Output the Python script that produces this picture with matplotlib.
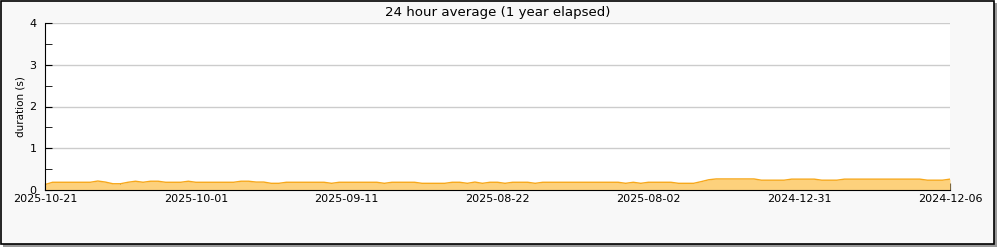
import matplotlib
matplotlib.use("Agg")
import matplotlib.pyplot as plt
from matplotlib.patches import Rectangle
from matplotlib.ticker import MultipleLocator
import numpy as np

# daily 24h averages (s), newest on the left
durations = [0.13] + [0.185] * 6 + [0.215, 0.19, 0.15, 0.15, 0.185, 0.21, 0.185,
             0.21, 0.21] + [0.185] * 3 + [0.21] + [0.185] * 6 + [0.21, 0.21, 0.19, 0.19,
             0.16, 0.16] + [0.185] * 6 + [0.16] + [0.185] * 6 + [0.16] + [0.185] * 4 + \
            [0.16] * 4 + [0.185, 0.185, 0.16, 0.19, 0.16, 0.185, 0.185, 0.16] + \
            [0.185] * 3 + [0.16] + [0.185] * 11 + [0.16, 0.185, 0.16] + [0.185] * 4 + \
            [0.16] * 3 + [0.2, 0.245] + [0.265] * 6 + [0.235] * 4 + [0.26] * 4 + \
            [0.235] * 3 + [0.26] * 11 + [0.235] * 3 + [0.26]
tick_labels = ["2025-10-21", "2025-10-01", "2025-09-11", "2025-08-22",
               "2025-08-02", "2024-12-31", "2024-12-06"]

days = np.arange(len(durations))

fig = plt.figure(figsize=(10, 2.5), dpi=100)
fig.patch.set_facecolor("white")

# frame with drop shadow
fig.patches.append(Rectangle((0.003, 0.012), 0.994, 0.976, transform=fig.transFigure,
                             facecolor="#999999", edgecolor="none", zorder=-2))
fig.patches.append(Rectangle((0.0007, 0.024), 0.993, 0.973, transform=fig.transFigure,
                             facecolor="#f8f8f8", edgecolor="black", linewidth=1.2, zorder=-1))

ax = fig.add_axes([0.045, 0.24, 0.905, 0.668])
ax.set_facecolor("white")
ax.fill_between(days, durations, 0, color="#fdd17c", linewidth=0)
ax.plot(days, durations, color="#f7a81b", linewidth=1)

ax.set_xlim(0, len(durations) - 1)
ax.set_ylim(0, 4)
ax.set_yticks([0, 1, 2, 3, 4])
ax.yaxis.set_minor_locator(MultipleLocator(0.5))
ax.set_xticks(np.arange(0, 121, 20))
ax.set_xticklabels(tick_labels)
ax.xaxis.set_minor_locator(MultipleLocator(10))
ax.grid(axis="y", color="#cccccc", linewidth=1)
ax.set_axisbelow(True)
ax.tick_params(direction="in", length=5, labelsize=8, colors="black")
ax.tick_params(which="minor", direction="in", length=5)
ax.tick_params(axis="y", pad=6)
ax.tick_params(axis="x", pad=3)
for s in ["top", "right"]:
    ax.spines[s].set_visible(False)
ax.set_ylabel("duration (s)", fontsize=7.5)
ax.yaxis.set_label_coords(-0.022, 0.5)
ax.set_title("24 hour average (1 year elapsed)", fontsize=9.6, pad=5)

fig.savefig("out.png", facecolor=fig.get_facecolor())
